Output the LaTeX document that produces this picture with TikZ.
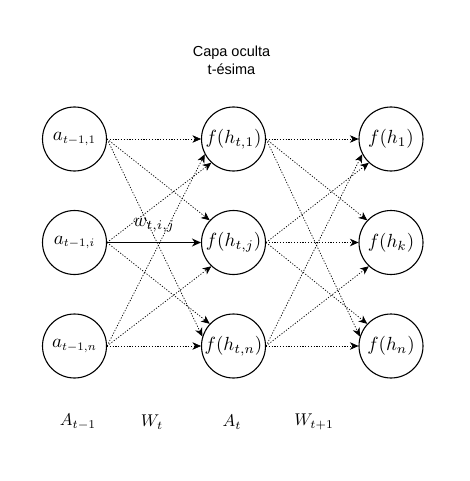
\documentclass[tikz,border=0pt]{standalone}
\usepackage{graphicx}
\usepackage{fontspec}
\newfontfamily\titlefont{Liberation Sans}
\usetikzlibrary{arrows.meta}
\newcommand{\NNmath}[1]{\scalebox{1.9}{$#1$}}
\newcommand{\NNsub}[1]{\scalebox{0.86}{$\scriptstyle #1$}}
\newcommand{\NNlab}[1]{\scalebox{1.7}{$#1$}}
\begin{document}
\begin{tikzpicture}[x=1pt,y=-1pt,
  neuron/.style={circle,draw,line width=1.1pt,minimum size=64pt,inner sep=0pt},
  conn/.style={line width=0.7pt,dash pattern=on 1.2pt off 1.6pt,-{Stealth[length=8.5pt,width=7.5pt,inset=2.5pt]}},
  mainconn/.style={line width=1.1pt,-{Stealth[length=9pt,width=8pt,inset=2.8pt]}},
  lbl/.style={inner sep=1pt},
  ttl/.style={font=\titlefont\fontsize{14.5}{18}\selectfont,align=center}]
\useasboundingbox (0,0) rectangle (469,481);
\node[ttl] (title) at (231.5,60) {Capa oculta\\t-ésima};
% input layer
\node[neuron] (a1) at (74.5,139) {\NNmath{a_{\NNsub{t-1,1}}}};
\node[neuron] (ai) at (74.5,242.5) {\NNmath{a_{\NNsub{t-1,i}}}};
\node[neuron] (an) at (74.5,346) {\NNmath{a_{\NNsub{t-1,n}}}};
% hidden layer
\node[neuron] (h1) at (233.5,139) {\NNmath{f(h_{t,1})}};
\node[neuron] (hj) at (233.5,242.5) {\NNmath{f(h_{t,j})}};
\node[neuron] (hn) at (233.5,346) {\NNmath{f(h_{t,n})}};
% next layer
\node[neuron] (o1) at (391,139) {\NNmath{f(h_1)}};
\node[neuron] (ok) at (391,242.5) {\NNmath{f(h_k)}};
\node[neuron] (on) at (391,346) {\NNmath{f(h_n)}};
% layer 1 connections
\draw[conn] (a1.east) -- (h1.180);
\draw[conn] (a1.east) -- (hj.137);
\draw[conn] (a1.east) -- (hn.163);
\draw[conn] (ai.east) -- (h1.227);
\draw[mainconn] (ai.east) -- (hj.180);
\draw[conn] (ai.east) -- (hn.137);
\draw[conn] (an.east) -- (h1.208);
\draw[conn] (an.east) -- (hj.227);
\draw[conn] (an.east) -- (hn.180);
% layer 2 connections
\draw[conn] (h1.east) -- (o1.180);
\draw[conn] (h1.east) -- (ok.137);
\draw[conn] (h1.east) -- (on.163);
\draw[conn] (hj.east) -- (o1.227);
\draw[conn] (hj.east) -- (ok.180);
\draw[conn] (hj.east) -- (on.137);
\draw[conn] (hn.east) -- (o1.208);
\draw[conn] (hn.east) -- (ok.227);
\draw[conn] (hn.east) -- (on.180);
% weight label
\node[lbl] (w) at (154,225) {\NNmath{w_{t,i,j}}};
% bottom labels
\node[lbl] (A0) at (78,422) {\NNlab{A_{t-1}}};
\node[lbl] (W0) at (152,422) {\NNlab{W_t}};
\node[lbl] (A1) at (232,422) {\NNlab{A_t}};
\node[lbl] (W1) at (314,422) {\NNlab{W_{t+1}}};
\end{tikzpicture}
\end{document}
